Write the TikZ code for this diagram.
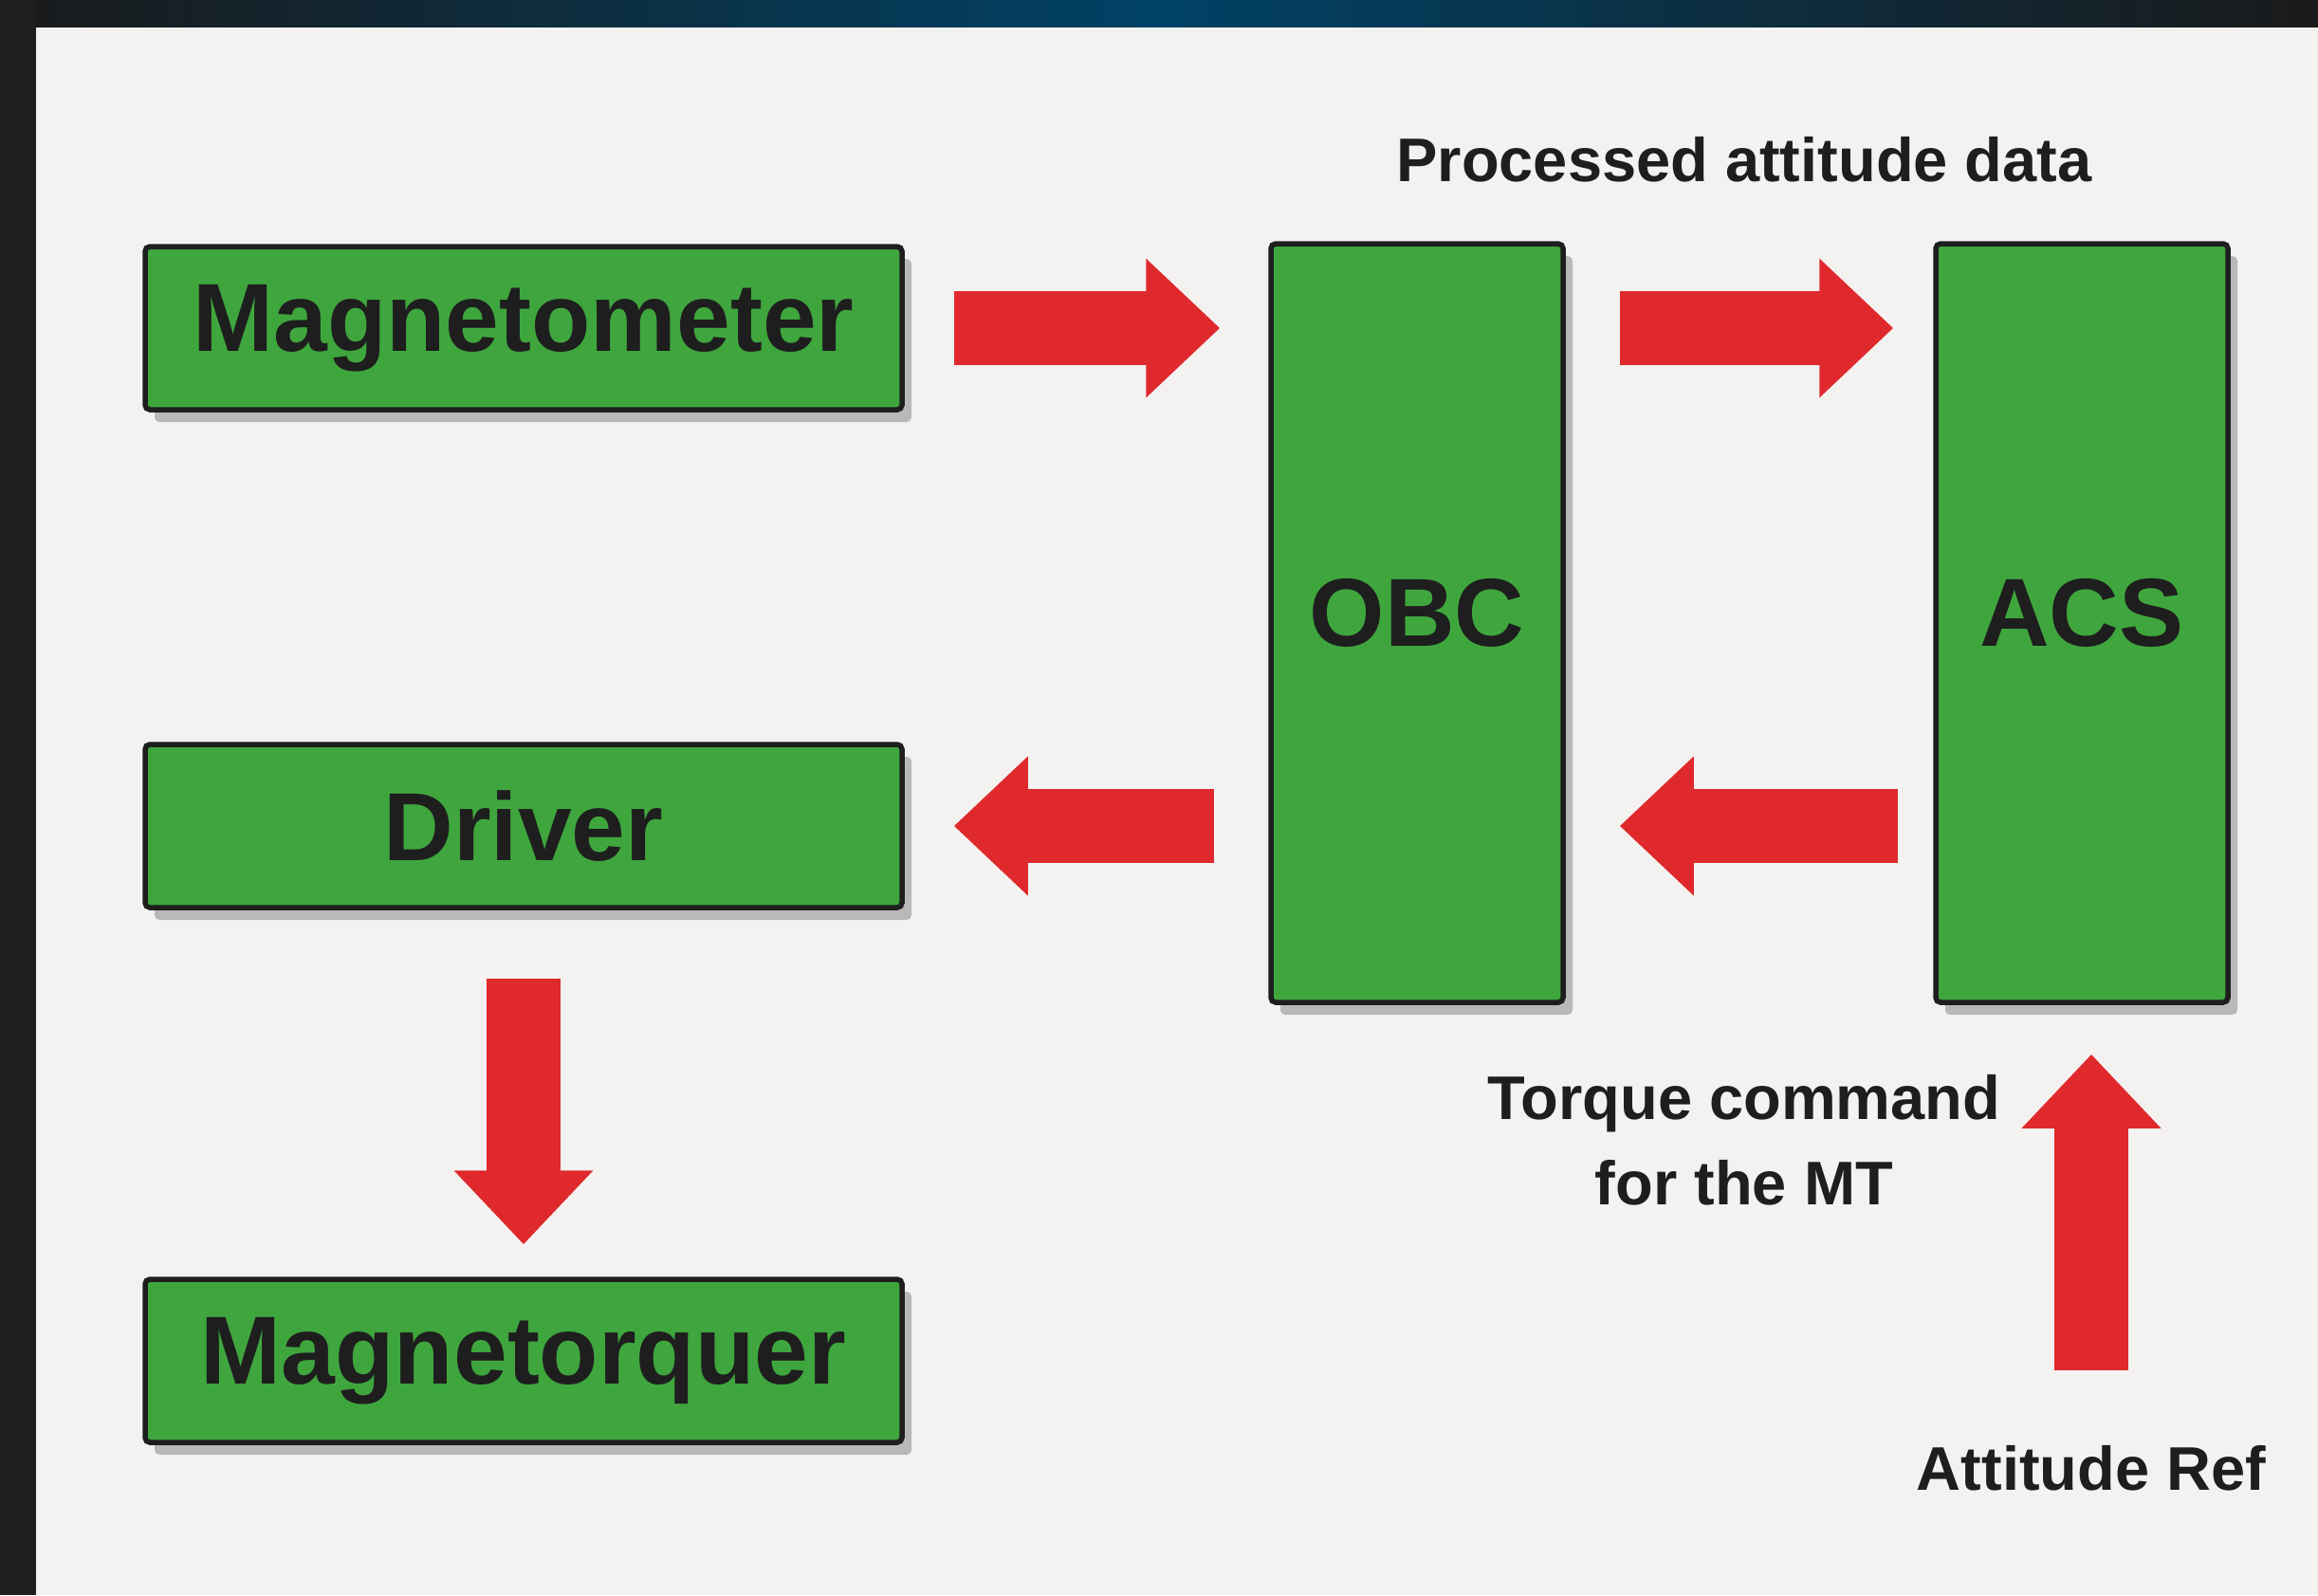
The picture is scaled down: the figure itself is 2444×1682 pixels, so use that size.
\documentclass[tikz,border=0pt]{standalone}
\usepackage{fontspec}
\setmainfont{Liberation Sans}
\usetikzlibrary{arrows.meta,shadows,calc}
\definecolor{boxgreen}{HTML}{3FA63E}
\definecolor{arrowred}{HTML}{E0292C}
\definecolor{paper}{HTML}{F3F2F0}
\definecolor{inkc}{HTML}{1E1E1E}
\begin{document}
\begin{tikzpicture}[x=1pt,y=-1pt,
  box/.style={draw=inkc, line width=5.5pt, fill=boxgreen, rounded corners=5pt, inner sep=0pt,
    font=\fontsize{102}{110}\selectfont\bfseries, text=inkc,
    drop shadow={shadow xshift=10pt, shadow yshift=-13pt, fill=black!55, opacity=0.45}},
  wide/.style={box, minimum width=798pt, minimum height=172pt},
  tall/.style={box, minimum width=308pt, minimum height=800pt, text depth=22pt},
  blk/.style={draw=arrowred, line width=78pt, -{Triangle[length=78pt, width=142pt, fill=arrowred]}},
  lbl/.style={font=\fontsize{65}{90}\selectfont\bfseries, text=inkc, inner sep=0pt}]
% page and scan edges
\fill[paper] (0,0) rectangle (2444,1682);
\useasboundingbox (0,0) rectangle (2444,1682);
\shade[left color=black!90, right color=black!90, middle color=blue!35!cyan!40!black] (0,0) rectangle (2444,28);
\fill[black!88] (0,0) rectangle (38,1682);
% boxes
\node[wide] (mag) at (552,346) {Magnetometer};
\node[wide] (drv) at (552,871) {Driver};
\node[wide] (mt)  at (552,1435) {Magnetorquer};
\node[tall] (obc) at (1494,657) {OBC};
\node[tall] (acs) at (2195,657) {ACS};
% labels
\node[lbl] (pad) at (1839,168) {Processed attitude data};
\node[lbl, align=center] (tc) at (1839,1202) {Torque command\\for the MT};
\node[lbl] (aref) at (2205,1548) {Attitude Ref};
\coordinate (refc) at (2205,1445);
% block arrows
\draw[blk, shorten <=52pt, shorten >=51pt] (mag.east) -- (mag.east -| obc.west);
\draw[blk, shorten <=57pt, shorten >=42pt] (obc.east |- mag.east) -- (acs.west |- mag.east);
\draw[blk, shorten <=57pt, shorten >=52pt] (obc.west |- drv.east) -- (drv.east);
\draw[blk, shorten <=37pt, shorten >=57pt] (acs.west |- drv.east) -- (obc.east |- drv.east);
\draw[blk, shorten <=72pt, shorten >=34pt] (drv.south) -- (mt.north);
\draw[blk, shorten >=52pt] (refc) -- (refc |- acs.south);
\end{tikzpicture}
\end{document}
